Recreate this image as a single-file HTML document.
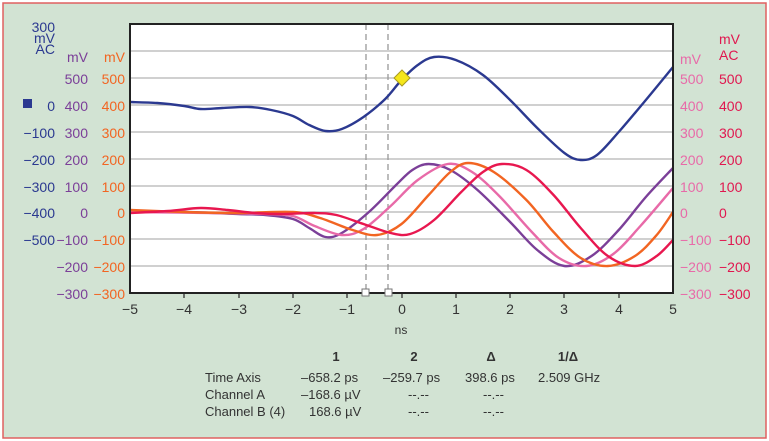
<!DOCTYPE html>
<html><head><meta charset="utf-8"><style>
html,body{margin:0;padding:0;background:#fff}
svg{display:block;font-family:"Liberation Sans",sans-serif}
</style></head><body>
<svg id="s" width="769" height="441" viewBox="0 0 769 441" xmlns="http://www.w3.org/2000/svg">
<rect x="3" y="3" width="763" height="435" fill="#d2e3d3" stroke="#e06060" stroke-width="1.5"/>
<rect x="130" y="24" width="543" height="269" fill="#fff"/>
<g stroke="#b4b4b4" stroke-width="1.3">
<line x1="130" x2="673" y1="51" y2="51"/><line x1="130" x2="673" y1="78" y2="78"/>
<line x1="130" x2="673" y1="105" y2="105"/><line x1="130" x2="673" y1="132" y2="132"/>
<line x1="130" x2="673" y1="159" y2="159"/><line x1="130" x2="673" y1="186" y2="186"/>
<line x1="130" x2="673" y1="212" y2="212"/><line x1="130" x2="673" y1="239" y2="239"/>
<line x1="130" x2="673" y1="266" y2="266"/>
</g>
<g stroke="#999" stroke-width="1.3" stroke-dasharray="6,4">
<line x1="366" x2="366" y1="24" y2="293"/><line x1="388" x2="388" y1="24" y2="293"/>
</g>
<g id="curves" fill="none" stroke-width="2.4"></g>
<polygon points="402,70 410,78 402,86 394,78" fill="#f5e61a" stroke="#a89a20" stroke-width="1"/>
<rect x="130" y="24" width="543" height="269" fill="none" stroke="#222" stroke-width="2"/>
<g stroke="#222" stroke-width="1.2">
<line x1="184" x2="184" y1="293" y2="298"/><line x1="239" x2="239" y1="293" y2="298"/>
<line x1="293" x2="293" y1="293" y2="298"/><line x1="347" x2="347" y1="293" y2="298"/>
<line x1="402" x2="402" y1="293" y2="298"/><line x1="456" x2="456" y1="293" y2="298"/>
<line x1="510" x2="510" y1="293" y2="298"/><line x1="564" x2="564" y1="293" y2="298"/>
<line x1="619" x2="619" y1="293" y2="298"/>
</g>
<rect x="362" y="289" width="7" height="7" fill="#fff" stroke="#777"/>
<rect x="385" y="289" width="7" height="7" fill="#fff" stroke="#777"/>
<g font-size="14" fill="#333" text-anchor="middle">
<text x="130" y="314">−5</text><text x="184" y="314">−4</text><text x="239" y="314">−3</text>
<text x="293" y="314">−2</text><text x="347" y="314">−1</text><text x="402" y="314">0</text>
<text x="456" y="314">1</text><text x="510" y="314">2</text><text x="564" y="314">3</text>
<text x="619" y="314">4</text><text x="673" y="314">5</text>
<text x="401" y="334" font-size="12">ns</text>
</g>
<g font-size="14" fill="#2b3990" text-anchor="end">
<text x="55" y="32">300</text><text x="55" y="43">mV</text><text x="55" y="54">AC</text>
<text x="55" y="111">0</text><text x="55" y="138">−100</text><text x="55" y="165">−200</text>
<text x="55" y="192">−300</text><text x="55" y="218">−400</text><text x="55" y="245">−500</text>
</g>
<rect x="23" y="99" width="9" height="9" fill="#2b3990"/>
<g font-size="14" fill="#7b3f98" text-anchor="end">
<text x="88" y="62">mV</text><text x="88" y="84">500</text><text x="88" y="111">400</text><text x="88" y="138">300</text>
<text x="88" y="165">200</text><text x="88" y="192">100</text><text x="88" y="218">0</text>
<text x="88" y="245">−100</text><text x="88" y="272">−200</text><text x="88" y="299">−300</text>
</g>
<g font-size="14" fill="#f26522" text-anchor="end">
<text x="125" y="62">mV</text><text x="125" y="84">500</text><text x="125" y="111">400</text><text x="125" y="138">300</text>
<text x="125" y="165">200</text><text x="125" y="192">100</text><text x="125" y="218">0</text>
<text x="125" y="245">−100</text><text x="125" y="272">−200</text><text x="125" y="299">−300</text>
</g>
<g font-size="14" fill="#e86aa8">
<text x="680" y="64">mV</text><text x="680" y="84">500</text><text x="680" y="111">400</text><text x="680" y="138">300</text>
<text x="680" y="165">200</text><text x="680" y="192">100</text><text x="680" y="218">0</text>
<text x="680" y="245">−100</text><text x="680" y="272">−200</text><text x="680" y="299">−300</text>
</g>
<g font-size="14" fill="#e0174f">
<text x="719" y="44">mV</text><text x="719" y="60">AC</text>
<text x="719" y="84">500</text><text x="719" y="111">400</text><text x="719" y="138">300</text>
<text x="719" y="165">200</text><text x="719" y="192">100</text><text x="719" y="218">0</text>
<text x="719" y="245">−100</text><text x="719" y="272">−200</text><text x="719" y="299">−300</text>
</g>
<g font-size="13" fill="#333">
<text x="336" y="361" font-weight="bold" text-anchor="middle">1</text>
<text x="414" y="361" font-weight="bold" text-anchor="middle">2</text>
<text x="491" y="361" font-weight="bold" text-anchor="middle">Δ</text>
<text x="568" y="361" font-weight="bold" text-anchor="middle">1/Δ</text>
<text x="205" y="382">Time Axis</text><text x="205" y="399">Channel A</text><text x="205" y="416">Channel B (4)</text>
<text x="301" y="382">–658.2 ps</text><text x="383" y="382">–259.7 ps</text>
<text x="465" y="382">398.6 ps</text><text x="538" y="382">2.509 GHz</text>
<text x="301" y="399">–168.6 µV</text><text x="408" y="399">--.--</text><text x="483" y="399">--.--</text>
<text x="309" y="416">168.6 µV</text><text x="408" y="416">--.--</text><text x="483" y="416">--.--</text>
</g>
</svg>
<script>
var X=function(t){return 401.5+54.3*t};
var S={
"#2b3990":[[-5,102],[-4.5,103],[-4,106],[-3.7,109],[-3.3,108],[-2.8,107],[-2.4,110],[-2,116],[-1.7,125],[-1.4,131],[-1.1,129],[-0.7,117],[-0.3,99],[0,80],[0.3,65],[0.6,57],[1,60],[1.5,75],[2,100],[2.5,128],[3,153],[3.3,160],[3.6,155],[4,132],[4.5,100],[5,67]],
"#7b3f98":[[-5,212],[-4,212],[-3,214],[-2.5,215],[-2,219],[-1.7,228],[-1.4,237],[-1.1,233],[-0.6,212],[-0.1,185],[0.2,170],[0.5,164],[0.9,170],[1.4,190],[2,222],[2.5,250],[3,266],[3.5,256],[4,230],[4.5,197],[5,168]],
"#e86aa8":[[-5,212],[-3.5,213],[-2.5,214],[-2,216],[-1.6,226],[-1.1,235],[-0.7,229],[-0.2,206],[0.3,180],[0.85,164],[1.3,172],[1.8,196],[2.4,232],[2.9,258],[3.4,266],[3.9,254],[4.4,226],[5,188]],
"#f26522":[[-5,210],[-4,212],[-3,213],[-2,212],[-1.5,218],[-0.9,230],[-0.45,235],[0,224],[0.5,195],[0.9,172],[1.23,163],[1.7,172],[2.3,200],[2.8,232],[3.3,258],[3.8,266],[4.3,256],[4.7,235],[5,212]],
"#e8174f":[[-5,213],[-4.3,211],[-3.7,208],[-3.2,210],[-2.7,213],[-2.2,214],[-1.6,213],[-1.2,215],[-0.7,224],[-0.2,233],[0.16,234],[0.6,220],[1.1,192],[1.5,172],[1.85,164],[2.3,170],[2.8,195],[3.3,228],[3.8,256],[4.3,266],[4.7,256],[5,240]]};
var g=document.getElementById("curves"),ns="http://www.w3.org/2000/svg";
for(var c in S){var p=S[c].map(function(a){return [X(a[0]),a[1]]});var d="M"+p[0][0]+","+p[0][1];
for(var i=0;i<p.length-1;i++){var p0=p[i-1]||p[i],p1=p[i],p2=p[i+1],p3=p[i+2]||p2;
d+=" C"+(p1[0]+(p2[0]-p0[0])/6)+","+(p1[1]+(p2[1]-p0[1])/6)+" "+(p2[0]-(p3[0]-p1[0])/6)+","+(p2[1]-(p3[1]-p1[1])/6)+" "+p2[0]+","+p2[1];}
var e=document.createElementNS(ns,"path");e.setAttribute("d",d);e.setAttribute("stroke",c);g.appendChild(e);}
</script>
</body></html>
